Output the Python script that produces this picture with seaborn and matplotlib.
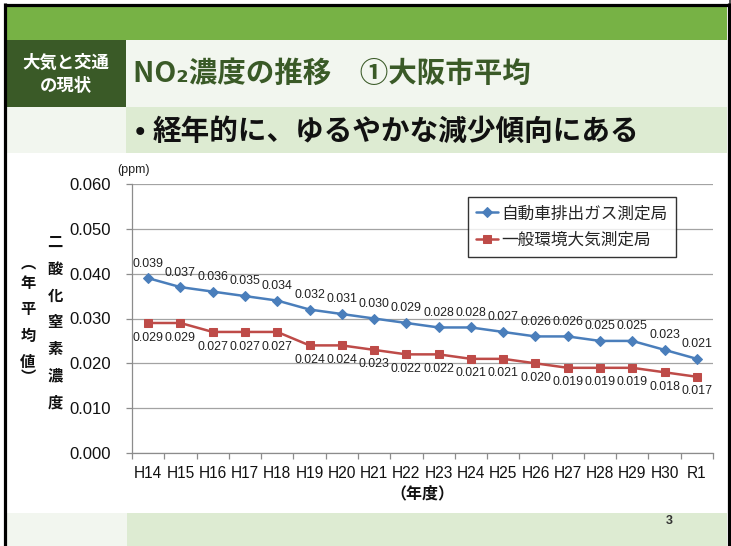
import numpy as np
import pandas as pd
import matplotlib
matplotlib.use("Agg")
import matplotlib.pyplot as plt
import seaborn as sns
from matplotlib.patches import Rectangle

# ---------------- data ----------------
years = ["H14", "H15", "H16", "H17", "H18", "H19", "H20", "H21", "H22",
         "H23", "H24", "H25", "H26", "H27", "H28", "H29", "H30", "R1"]
roadside = [0.039, 0.037, 0.036, 0.035, 0.034, 0.032, 0.031, 0.030, 0.029,
            0.028, 0.028, 0.027, 0.026, 0.026, 0.025, 0.025, 0.023, 0.021]
ambient = [0.029, 0.029, 0.027, 0.027, 0.027, 0.024, 0.024, 0.023, 0.022,
           0.022, 0.021, 0.021, 0.020, 0.019, 0.019, 0.019, 0.018, 0.017]
series_names = ["自動車排出ガス測定局", "一般環境大気測定局"]
yticks = [0.000, 0.010, 0.020, 0.030, 0.040, 0.050, 0.060]

title_text = "NO₂濃度の推移　①大阪市平均"
subtitle_text = "経年的に、ゆるやかな減少傾向にある"
section_text = ["大気と交通", "の現状"]
ylabel_main = "二酸化窒素濃度"
ylabel_sub = "︵年平均値︶"
xlabel_text = "（年度）"
unit_text = "(ppm)"
page_no = "3"

# ---------------- style ----------------
sns.set_theme(style="white")
plt.rcParams['font.family'] = ['Liberation Sans', 'Noto Sans CJK JP', 'DejaVu Sans']
JP = ['Noto Sans CJK JP', 'DejaVu Sans']

BLUE = "#4A7EBB"
RED = "#BE4B48"
DARK_GREEN = "#3A5A27"

W, H = 731, 546
fig = plt.figure(figsize=(W / 100, H / 100), dpi=100)

# background layer in pixel coordinates
bg = fig.add_axes([0, 0, 1, 1], zorder=0)
bg.set_xlim(0, W)
bg.set_ylim(H, 0)
bg.axis('off')


def rect(x0, y0, x1, y1, c):
    bg.add_patch(Rectangle((x0, y0), x1 - x0, y1 - y0, facecolor=c, edgecolor='none'))


rect(0, 0, W, H, 'white')
rect(729, 0, W, H, '#555555')
rect(5, 7, 727, 40, '#77B245')
rect(5, 40, 126, 107, DARK_GREEN)
rect(126, 40, 727, 107, '#F2F6EF')
rect(5, 107, 126, 153, '#F2F6EF')
rect(126, 107, 727, 153, '#DDEBD2')
rect(5, 513, 127, 546, '#F2F6EF')
rect(127, 513, 727, 546, '#DDEBD2')
# slide frame
bg.plot([5, 5], [3, H], color='black', lw=2.3, solid_capstyle='butt')
bg.plot([728.5, 728.5], [3, H], color='black', lw=2.3, solid_capstyle='butt')
bg.plot([3.5, 729.5], [4.8, 4.8], color='black', lw=2.3, solid_capstyle='butt')

bg.text(66, 63, section_text[0], color='white', fontsize=12.5, weight='bold',
        ha='center', va='center', family=JP)
bg.text(66, 86, section_text[1], color='white', fontsize=12.5, weight='bold',
        ha='center', va='center', family=JP)
bg.text(133, 74, title_text, color=DARK_GREEN, fontsize=20.5, weight='bold',
        ha='left', va='center', family=JP)
bg.text(135, 131, "•", color='#111111', fontsize=20, weight='bold',
        ha='left', va='center', family=JP)
bg.text(153, 131, subtitle_text, color='#111111', fontsize=20.6, weight='bold',
        ha='left', va='center', family=JP)
bg.text(669, 521, page_no, color='#333333', fontsize=9, weight='bold',
        ha='center', va='center')

# axis titles
bg.text(133, 170, unit_text, fontsize=9, ha='center', va='center', color='#222222')
y0 = 242
for i, ch in enumerate(ylabel_main):
    bg.text(55, y0 + i * 26.7, ch, fontsize=11, weight='bold', ha='center',
            va='center', family=JP, color='#111111')
sub_pos = [262, 283, 309, 336, 362, 377]
for ch, yy in zip(ylabel_sub, sub_pos):
    bg.text(28, yy, ch, fontsize=11, weight='bold', ha='center', va='center',
            family=JP, color='#111111')
bg.text(422, 493, xlabel_text, fontsize=11.5, weight='bold', ha='center',
        va='center', family=JP, color='#111111')

# ---------------- chart ----------------
ax = fig.add_axes([132 / W, (H - 453) / H, 581 / W, 269 / H], zorder=1)
ax.set_facecolor('none')

df_road = pd.DataFrame({"year": years, "value": roadside})
df_amb = pd.DataFrame({"year": years, "value": ambient})

sns.lineplot(data=df_road, x="year", y="value", ax=ax, sort=False, color=BLUE,
             lw=1.8, marker='D', markersize=4.6, markeredgecolor=BLUE,
             markerfacecolor=BLUE, label=series_names[0])
sns.lineplot(data=df_amb, x="year", y="value", ax=ax, sort=False, color=RED,
             lw=1.8, marker='s', markersize=6.3, markeredgecolor=RED,
             markerfacecolor=RED, label=series_names[1])

for i, v in enumerate(roadside):
    ax.annotate(f"{v:.3f}", (i, v), xytext=(0, 10.5), textcoords='offset points',
                ha='center', va='center', fontsize=8.9, color='#222222')
for i, v in enumerate(ambient):
    ax.annotate(f"{v:.3f}", (i, v), xytext=(0, -10.5), textcoords='offset points',
                ha='center', va='center', fontsize=8.9, color='#222222')

ax.set_ylim(0, 0.06)
ax.set_yticks(yticks)
ax.set_yticklabels([f"{t:.3f}" for t in yticks], fontsize=12, color='#111111')
ax.set_xlim(-0.5, len(years) - 0.5)
ax.set_xticks(range(len(years)))
ax.set_xticklabels(years, fontsize=11.2, color='#111111')
ax.set_xticks(np.arange(-0.5, len(years)), minor=True)
ax.tick_params(axis='x', which='major', length=0, pad=9)
ax.tick_params(axis='x', which='minor', length=4, width=0.9, color='#8C8C8C',
               direction='out', bottom=True)
ax.tick_params(axis='y', which='major', length=4, width=0.9, color='#8C8C8C',
               direction='out', left=True, pad=11)
ax.set_xlabel("")
ax.set_ylabel("")
ax.yaxis.grid(True, color='#A3A3A3', lw=0.9)
ax.xaxis.grid(False)
for s in ['top', 'right']:
    ax.spines[s].set_visible(False)
for s in ['left', 'bottom']:
    ax.spines[s].set_color('#8C8C8C')
    ax.spines[s].set_linewidth(0.9)

leg = ax.legend(loc='upper left', bbox_to_anchor=(0.578, 0.952), frameon=True,
                fancybox=False, edgecolor='black', prop={'family': JP, 'size': 12},
                handlelength=1.3, borderpad=0.5, labelspacing=0.55,
                handletextpad=0.2, borderaxespad=0)
leg.get_frame().set_linewidth(1.0)

fig.savefig("out.png", dpi=100)
